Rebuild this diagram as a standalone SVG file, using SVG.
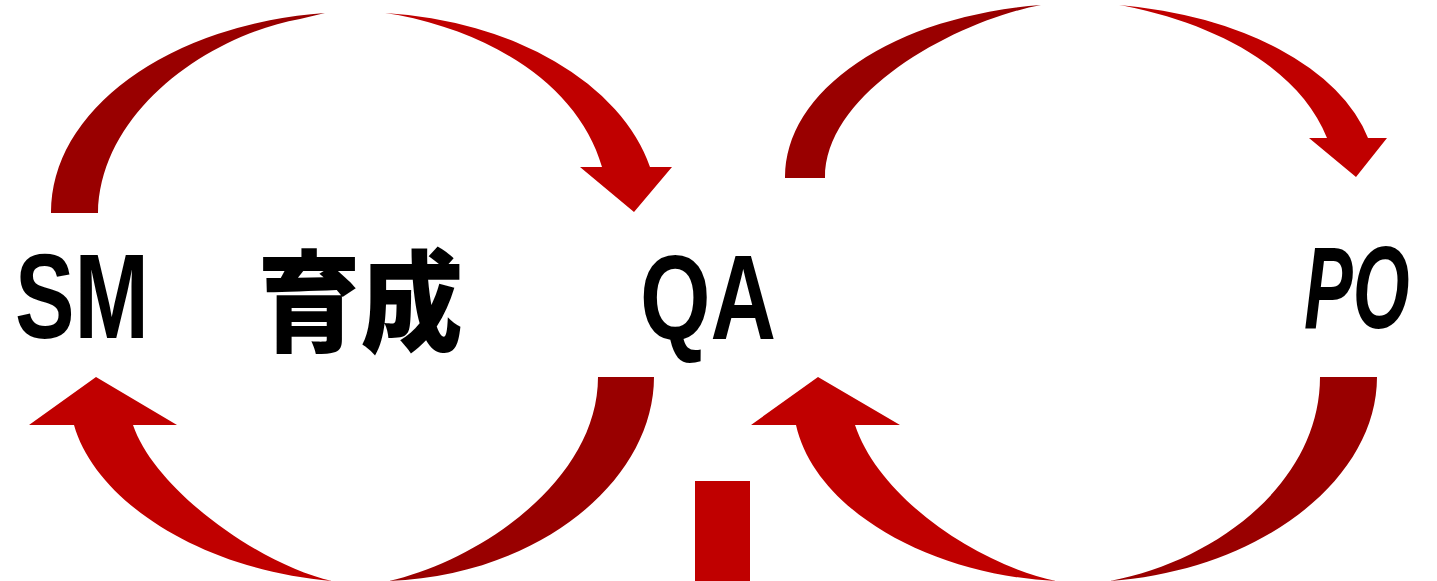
<svg xmlns="http://www.w3.org/2000/svg" width="1437" height="581" viewBox="0 0 1437 581">
<style>
.dark{fill:#990000}
.bright{fill:#C00000}
.lbl{font-family:"Liberation Sans","DejaVu Sans",sans-serif;font-weight:bold;fill:#000}
.cjk{font-family:"Noto Sans CJK JP","Noto Sans CJK SC",sans-serif;font-weight:900;fill:#000}
</style>
<rect width="1437" height="581" fill="#fff"/>
<g id="connectors">
  <!-- top-left: SM -> QA -->
  <path class="dark" d="M 51 213 A 307 200 0 0 1 325 13 L 300 19 C 210 35 100 110 98 213 Z"/>
  <path class="bright" d="M 385 13 A 300 200 0 0 1 650 167 L 672 167 L 634 212 L 580 167 L 602 167 C 580 90 500 35 398 15 Z"/>
  <!-- top-right: QA -> PO -->
  <path class="dark" d="M 785 178 A 292 173 0 0 1 1041 5 C 960 20 825 90 825 178 Z"/>
  <path class="bright" d="M 1119 5 A 300 173 0 0 1 1368 138 L 1387 138 L 1356 177 L 1309 138 L 1327 138 C 1300 70 1220 25 1125 6 Z"/>
  <!-- bottom-left: QA -> SM -->
  <path class="dark" d="M 598 377 L 654 377 C 654 480 540 575 389 581 C 480 560 598 480 598 377 Z"/>
  <path class="bright" d="M 332 581 C 200 570 95 500 74 425 L 29 425 L 96 377 L 177 425 L 133 425 C 155 490 260 565 332 581 Z"/>
  <!-- bottom-right: PO -> QA -->
  <path class="dark" d="M 1320 377 L 1377 377 C 1377 480 1260 570 1110 581 C 1220 560 1320 480 1320 377 Z"/>
  <path class="bright" d="M 1056 581 C 930 575 815 510 796 425 L 751 425 L 818 377 L 900 425 L 855 425 C 880 500 980 565 1056 581 Z"/>
  <!-- vertical bar -->
  <rect class="bright" x="695" y="481" width="55" height="100"/>
</g>
<g id="node-sm">
  <text class="lbl" x="15" y="338" font-size="120" textLength="134" lengthAdjust="spacingAndGlyphs">SM</text>
</g>
<g id="node-ikusei">
  <text class="cjk" x="258" y="343" font-size="110" textLength="205" lengthAdjust="spacingAndGlyphs">育成</text>
</g>
<g id="node-qa">
  <text class="lbl" x="640" y="339" font-size="120" textLength="136" lengthAdjust="spacingAndGlyphs">QA</text>
</g>
<g id="node-po">
  <text class="lbl" transform="translate(1304 328) scale(0.63 1)" x="0" y="0" font-size="116" font-style="italic">PO</text>
</g>
</svg>
